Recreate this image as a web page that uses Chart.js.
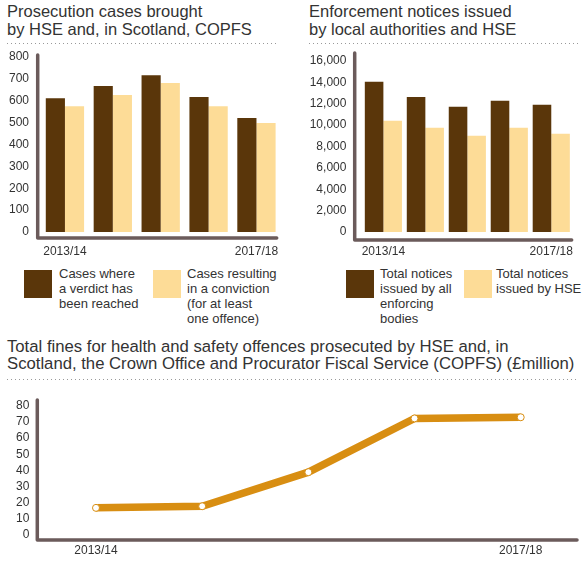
<!DOCTYPE html>
<html>
<head>
<meta charset="utf-8">
<script src="https://cdn.jsdelivr.net/npm/chart.js"></script>
<style>
  body { margin: 0; background: #fff; font-family: 'Liberation Sans', Arial, sans-serif; color: #333; }
  #page { position: relative; width: 586px; height: 566px; overflow: hidden; }
  canvas { position: absolute; }
  .title { position: absolute; font-size: 16.5px; line-height: 17.7px; white-space: nowrap; color: #333; }
  .dots { position: absolute; height: 1px;
    background-image: linear-gradient(to right, #999 0, #999 1px, transparent 1px);
    background-size: 4px 1px; }
  .key { position: absolute; top: 270px; width: 28px; height: 28px; }
  .keytext { position: absolute; top: 266px; font-size: 13px; line-height: 15px; white-space: nowrap; color: #333; }
</style>
</head>
<body>
<div id="page">
  <div class="title" style="left:7px; top:3px;">Prosecution cases brought<br>by HSE and, in Scotland, COPFS</div>
  <div class="dots" style="left:7px; top:43px; width:271px;"></div>
  <div class="title" style="left:309px; top:3px;">Enforcement notices issued<br>by local authorities and HSE</div>
  <div class="dots" style="left:309px; top:43px; width:270px;"></div>

  <canvas id="cases" width="293" height="265" style="left:0; top:0;"></canvas>
  <canvas id="notices" width="293" height="265" style="left:293px; top:0;"></canvas>

  <div id="legends"></div>

  <div class="title" style="left:7px; top:339px; font-size:16.7px; line-height:16.7px;">Total fines for health and safety offences prosecuted by HSE and, in<br>Scotland, the Crown Office and Procurator Fiscal Service (COPFS) (£million)</div>
  <div class="dots" style="left:7px; top:379px; width:570px;"></div>

  <canvas id="fines" width="586" height="181" style="left:0; top:385px;"></canvas>
</div>
<script>
const years = ['2013/14', '2014/15', '2015/16', '2016/17', '2017/18'];

const verdictCases = [612, 667, 717, 617, 521];
const convictionCases = [575, 626, 681, 575, 498];

const allNotices = [14050, 12620, 11720, 12280, 11910];
const hseNotices = [10410, 9760, 9010, 9760, 9200];

const finesMillions = [16.8, 17.8, 38.9, 72.2, 72.9];

const casesLegend = [
    ['Cases where', 'a verdict has', 'been reached'],
    ['Cases resulting', 'in a conviction', '(for at least', 'one offence)']
];
const noticesLegend = [
    ['Total notices', 'issued by all', 'enforcing', 'bodies'],
    ['Total notices', 'issued by HSE']
];

const darkBrown = '#5a360a';
const paleGold = '#fddc97';
const orange = '#d88e12';
const axisColour = '#6b5b5b';
const textColour = '#333333';
const fontFamily = "'Liberation Sans', Arial, sans-serif";

Chart.defaults.font.family = fontFamily;
Chart.defaults.color = textColour;

// L-shaped axis with rounded ends, sitting a little outside the plot area
const axisFrame = {
    id: 'axisFrame',
    afterDraw(chart, args, opts) {
        const a = chart.chartArea;
        const c = chart.ctx;
        const x = a.left - opts.left;
        const y = a.bottom + opts.bottom;
        c.save();
        c.strokeStyle = axisColour;
        c.lineWidth = 3.5;
        c.lineCap = 'round';
        c.lineJoin = 'round';
        c.beginPath();
        c.moveTo(x, a.top - opts.top);
        c.lineTo(x, y);
        c.lineTo(a.right + opts.right, y);
        c.stroke();
        c.restore();
    }
};

function endLabels(v, i, ticks) {
    return (i === 0 || i === ticks.length - 1) ? this.getLabelForValue(v) : '';
}

function xAxis(height, pad) {
    return {
        grid: { display: false, drawTicks: false },
        border: { display: false },
        ticks: { callback: endLabels, autoSkip: false, maxRotation: 0, padding: pad, font: { size: 12 }, color: textColour },
        afterFit: (scale) => { scale.height = height; }
    };
}

function yAxis(width, max, step, pad, fmt) {
    return {
        min: 0,
        max: max,
        grid: { display: false, drawTicks: false },
        border: { display: false },
        ticks: { stepSize: step, autoSkip: false, padding: pad, font: { size: 12 }, color: textColour, callback: fmt },
        afterFit: (scale) => { scale.width = width; }
    };
}

function barChart(id, a, b, frame, layout) {
    return new Chart(document.getElementById(id), {
        type: 'bar',
        data: {
            labels: years,
            datasets: [
                { data: a, backgroundColor: darkBrown, categoryPercentage: layout.cat, barPercentage: 1 },
                { data: b, backgroundColor: paleGold, categoryPercentage: layout.cat, barPercentage: 1 }
            ]
        },
        options: {
            responsive: false,
            animation: false,
            layout: { padding: layout.padding },
            plugins: { legend: { display: false }, tooltip: { enabled: false }, axisFrame: frame },
            scales: {
                x: xAxis(layout.xHeight, 12.3),
                y: yAxis(layout.yWidth, layout.max, layout.step, layout.tickPad, layout.fmt)
            }
        },
        plugins: [axisFrame]
    });
}

barChart('cases', verdictCases, convictionCases,
    { left: 3.3, top: 2, bottom: 6, right: -3.7 },
    { cat: 0.8, padding: { top: 57, right: 12.6, bottom: 0, left: 0 }, xHeight: 33, yWidth: 41,
      max: 800, step: 100, tickPad: 12, fmt: (v) => v });

barChart('notices', allNotices, hseNotices,
    { left: 7.7, top: 8, bottom: 8, right: -0.6 },
    { cat: 0.885, padding: { top: 61, right: 7.4, bottom: 0, left: 0 }, xHeight: 33, yWidth: 69.4,
      max: 16000, step: 2000, tickPad: 16, fmt: (v) => v.toLocaleString('en-GB') });

new Chart(document.getElementById('fines'), {
    type: 'line',
    data: {
        labels: years,
        datasets: [{
            data: finesMillions,
            borderColor: orange,
            borderWidth: 7.5,
            tension: 0,
            pointRadius: 3.5,
            pointBackgroundColor: '#ffffff',
            pointBorderColor: orange,
            pointBorderWidth: 1
        }]
    },
    options: {
        responsive: false,
        animation: false,
        layout: { padding: { top: 10.7, right: 12.2, bottom: 0, left: 0 } },
        plugins: { legend: { display: false }, tooltip: { enabled: false },
            axisFrame: { left: 5.6, top: 5.7, bottom: 5, right: 3.2 } },
        scales: {
            x: Object.assign(xAxis(31, 8.8), { offset: true }),
            y: yAxis(42.9, 80, 10, 13.6, (v) => v)
        }
    },
    plugins: [axisFrame]
});

// legends (HTML, two columns per chart)
const legendHolder = document.getElementById('legends');
function addKey(x, colour, textX, lines) {
    const sw = document.createElement('div');
    sw.className = 'key';
    sw.style.left = x + 'px';
    sw.style.background = colour;
    legendHolder.appendChild(sw);
    const t = document.createElement('div');
    t.className = 'keytext';
    t.style.left = textX + 'px';
    t.innerHTML = lines.join('<br>');
    legendHolder.appendChild(t);
}
addKey(24, darkBrown, 59, casesLegend[0]);
addKey(153, paleGold, 187, casesLegend[1]);
addKey(346, darkBrown, 380, noticesLegend[0]);
addKey(464, paleGold, 496, noticesLegend[1]);
</script>
</body>
</html>
